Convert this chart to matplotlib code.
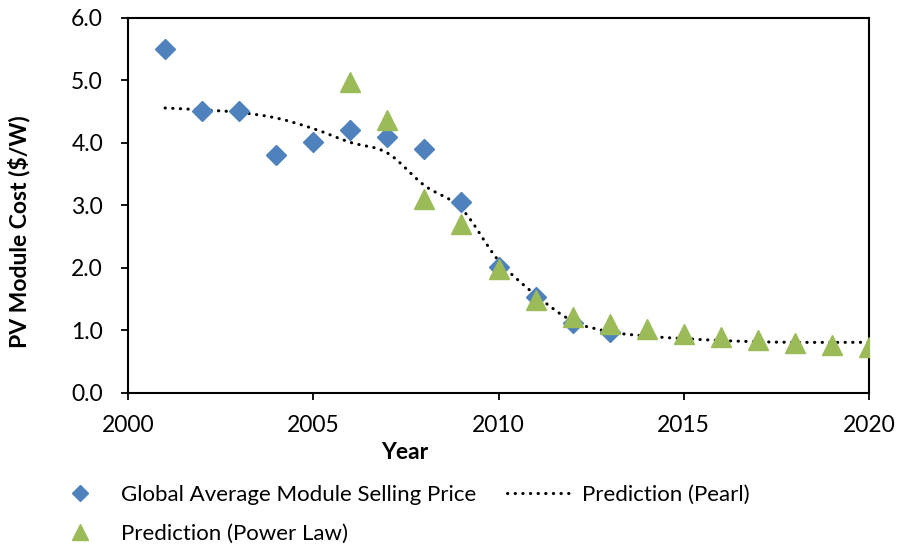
import numpy as np
import matplotlib
matplotlib.use("Agg")
import matplotlib.pyplot as plt
from matplotlib.path import Path
from matplotlib.patches import PathPatch
from matplotlib.lines import Line2D

# data
price_years = [2001, 2002, 2003, 2004, 2005, 2006, 2007, 2008, 2009, 2010, 2011, 2012, 2013]
price_values = [5.50, 4.51, 4.51, 3.81, 4.01, 4.21, 4.10, 3.90, 3.06, 2.02, 1.54, 1.12, 0.98]

power_years = [2006, 2007, 2008, 2009, 2010, 2011, 2012, 2013, 2014, 2015, 2016, 2017, 2018, 2019, 2020]
power_values = [4.97, 4.36, 3.11, 2.71, 1.99, 1.48, 1.22, 1.10, 1.02, 0.94, 0.89, 0.85, 0.80, 0.77, 0.73]

pearl_years = list(range(2001, 2021))
pearl_values = [4.56, 4.53, 4.49, 4.40, 4.23, 4.01, 3.84, 3.32, 2.95, 2.12,
                1.57, 1.15, 0.98, 0.91, 0.87, 0.84, 0.82, 0.81, 0.81, 0.81]

x_ticks = [2000, 2005, 2010, 2015, 2020]
y_ticks = [0, 1, 2, 3, 4, 5, 6]

BLUE = "#4F81BD"
GREEN = "#9BBB59"
FONT = "Lato"
FS = 16.5
DOTS = (0, (0.1, 2.4))


def smooth_path(xs, ys):
    # Excel-style smoothed line: cubic bezier segments through the points
    pts = np.column_stack([xs, ys]).astype(float)
    n = len(pts)
    verts = [pts[0]]
    codes = [Path.MOVETO]
    for i in range(n - 1):
        p0 = pts[i - 1] if i > 0 else pts[i]
        p1 = pts[i]
        p2 = pts[i + 1]
        p3 = pts[i + 2] if i + 2 < n else pts[i + 1]
        c1 = p1 + (p2 - p0) / 6.0
        c2 = p2 - (p3 - p1) / 6.0
        verts += [c1, c2, p2]
        codes += [Path.CURVE4] * 3
    return Path(verts, codes)


plt.rcParams['font.family'] = [FONT, 'DejaVu Sans']

fig = plt.figure(figsize=(8.97, 5.5), dpi=100)
ax = fig.add_axes([0.1427, 0.2855, 0.8261, 0.6818])

pearl = PathPatch(smooth_path(pearl_years, pearl_values), fill=False,
                  edgecolor='black', linestyle=DOTS, linewidth=2.2,
                  capstyle='round', zorder=2)
ax.add_patch(pearl)

ax.plot(price_years, price_values, linestyle='none', marker='D', markersize=9.7,
        color=BLUE, zorder=3)
ax.plot(power_years, power_values, linestyle='none', marker='^', markersize=14,
        color=GREEN, zorder=4)

ax.set_xlim(2000, 2020)
ax.set_ylim(0, 6)
ax.set_xticks(x_ticks)
ax.set_yticks(y_ticks)
ax.set_yticklabels([f"{v:.1f}" for v in y_ticks])
ax.tick_params(direction='out', length=5, width=1.3, labelsize=FS)
ax.tick_params(axis='x', pad=11)
ax.tick_params(axis='y', pad=13)
for s in ax.spines.values():
    s.set_linewidth(1.5)

ax.set_xlabel("Year", fontsize=FS, fontweight='bold')
ax.xaxis.set_label_coords(0.374, -0.13)
ax.set_ylabel("PV Module Cost ($/W)", fontsize=FS, fontweight='bold')
ax.yaxis.set_label_coords(-0.132, 0.43)

handles = [
    Line2D([], [], linestyle='none', marker='D', markersize=8, color=BLUE),
    Line2D([], [], linestyle='none', marker='^', markersize=11, color=GREEN),
    Line2D([], [], color='black', linestyle=DOTS, linewidth=2.2, dash_capstyle='round'),
]
labels = ["Global Average Module Selling Price", "Prediction (Power Law)", "Prediction (Pearl)"]
fig.legend(handles, labels, loc='upper left', bbox_to_anchor=(0.052, 0.118),
           ncol=2, frameon=False, fontsize=16, handlelength=3, handletextpad=0.35,
           columnspacing=1.4, labelspacing=0.85, borderaxespad=0, borderpad=0)

fig.savefig("out.png", dpi=100)
